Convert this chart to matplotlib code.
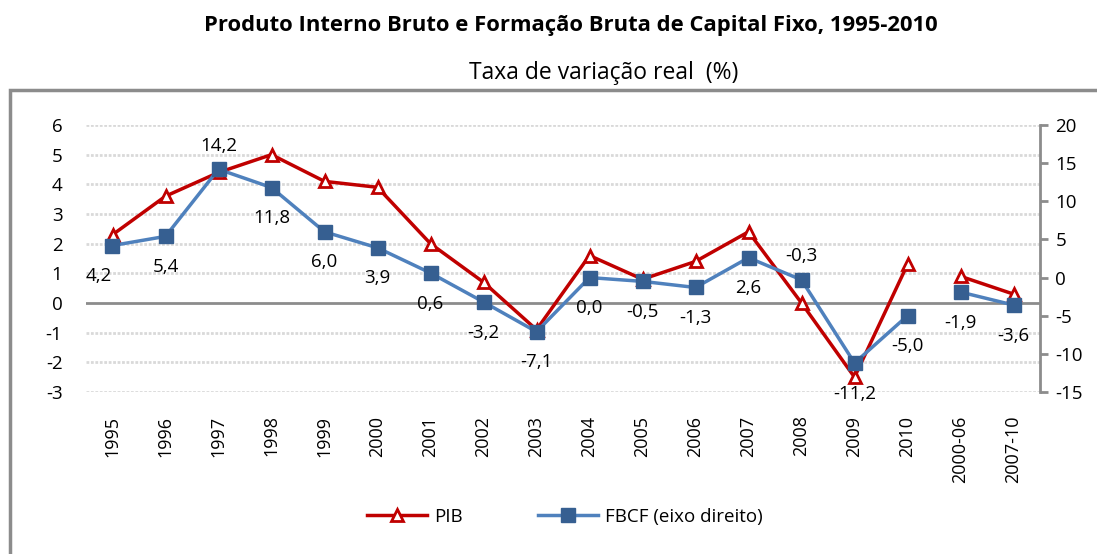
import numpy as np
import matplotlib
matplotlib.use("Agg")
import matplotlib.pyplot as plt
import matplotlib.patches as mpatches
from matplotlib.lines import Line2D

plt.rcParams['font.family'] = ['Open Sans', 'DejaVu Sans']
plt.rcParams['axes.unicode_minus'] = False

anos = ["1995", "1996", "1997", "1998", "1999", "2000", "2001", "2002", "2003",
        "2004", "2005", "2006", "2007", "2008", "2009", "2010", "2000-06", "2007-10"]
pib = [2.3, 3.6, 4.4, 5.0, 4.1, 3.9, 2.0, 0.7, -0.9, 1.6, 0.8, 1.4, 2.4, 0.0, -2.5, 1.3,
       0.9, 0.3]
fbcf = [4.2, 5.4, 14.2, 11.8, 6.0, 3.9, 0.6, -3.2, -7.1, 0.0, -0.5, -1.3, 2.6, -0.3, -11.2,
        -5.0, -1.9, -3.6]
# labels above the point (others below)
acima = ["1997", "2008"]

red = "#c00000"
blue_line = "#4f81bd"
blue_mark = "#365f91"
grey = "#8c8c8c"

fig = plt.figure(figsize=(10.97, 5.54), dpi=100)
W, H = 1097, 554
ax = fig.add_axes([86 / W, 1 - 392 / H, (1040 - 86) / W, (392 - 125) / H])
ax2 = ax.twinx()

x = np.arange(len(anos))
# gap between 2010 and the period averages
seg1 = slice(0, 16)
seg2 = slice(16, 18)

ax.set_ylim(-3, 6)
ax.set_xlim(-0.5, len(anos) - 0.5)
ax2.set_ylim(-15, 20)

for v in range(-3, 7):
    if v != 0:
        ax.axhline(v, color="#d9d9d9", lw=2, ls=(0, (1, 0.6)), zorder=0)
ax.axhline(0, color=grey, lw=2, zorder=1)

for s in (seg1, seg2):
    ax.plot(x[s], pib[s], color=red, lw=2.5, marker="^", ms=9, mfc="white",
            mec=red, mew=2, zorder=3)
    ax2.plot(x[s], fbcf[s], color=blue_line, lw=2.5, marker="s", ms=10.5,
             mfc=blue_mark, mec=blue_mark, zorder=3)

for i, (a, v) in enumerate(zip(anos, fbcf)):
    lab = "{:.1f}".format(v).replace(".", ",")
    dy = 17 if a in acima else -22
    dx = -10 if a == "1995" else 0
    ax2.annotate(lab, (i, v), xytext=(dx, dy), textcoords="offset points",
                 ha="center", va="center", fontsize=13.5)

ax.set_xticks(x)
ax.set_xticklabels(anos, rotation=90, fontsize=13)
ax.tick_params(axis="x", length=0, pad=17)
ax.set_yticks(range(-3, 7))
ax.tick_params(axis="y", length=0, labelsize=13.5, pad=17)
ax2.set_yticks(range(-15, 21, 5))
ax2.tick_params(axis="y", length=6, width=2, color=grey, labelsize=13.5, pad=5)

for s in ("top", "bottom", "left"):
    ax.spines[s].set_visible(False)
    ax2.spines[s].set_visible(False)
ax.spines["right"].set_visible(False)
ax2.spines["right"].set_color(grey)
ax2.spines["right"].set_linewidth(2)

# outer frame
fig.add_artist(mpatches.Rectangle((10 / W, -0.1), 1.2, 1.1 - 90 / H, fill=False,
                                  edgecolor=grey, lw=2.5, transform=fig.transFigure))

fig.text(571 / W, 1 - 25 / H, "Produto Interno Bruto e Formação Bruta de Capital Fixo, 1995-2010",
         ha="center", va="center", fontsize=15.8, fontweight="bold")
fig.text(604 / W, 1 - 73 / H, "Taxa de variação real  (%)", ha="center", va="center",
         fontsize=16.5)

handles = [Line2D([], [], color=red, lw=2.5, marker="^", ms=9, mfc="white", mec=red, mew=2),
           Line2D([], [], color=blue_line, lw=2.5, marker="s", ms=10.5, mfc=blue_mark,
                  mec=blue_mark)]
fig.legend(handles, ["PIB", "FBCF (eixo direito)"], loc="center",
           bbox_to_anchor=(565 / W, 1 - 517 / H), ncol=2, frameon=False, fontsize=13.5,
           handlelength=3.2, handletextpad=0.4, columnspacing=4)

fig.savefig("out.png", dpi=100)
